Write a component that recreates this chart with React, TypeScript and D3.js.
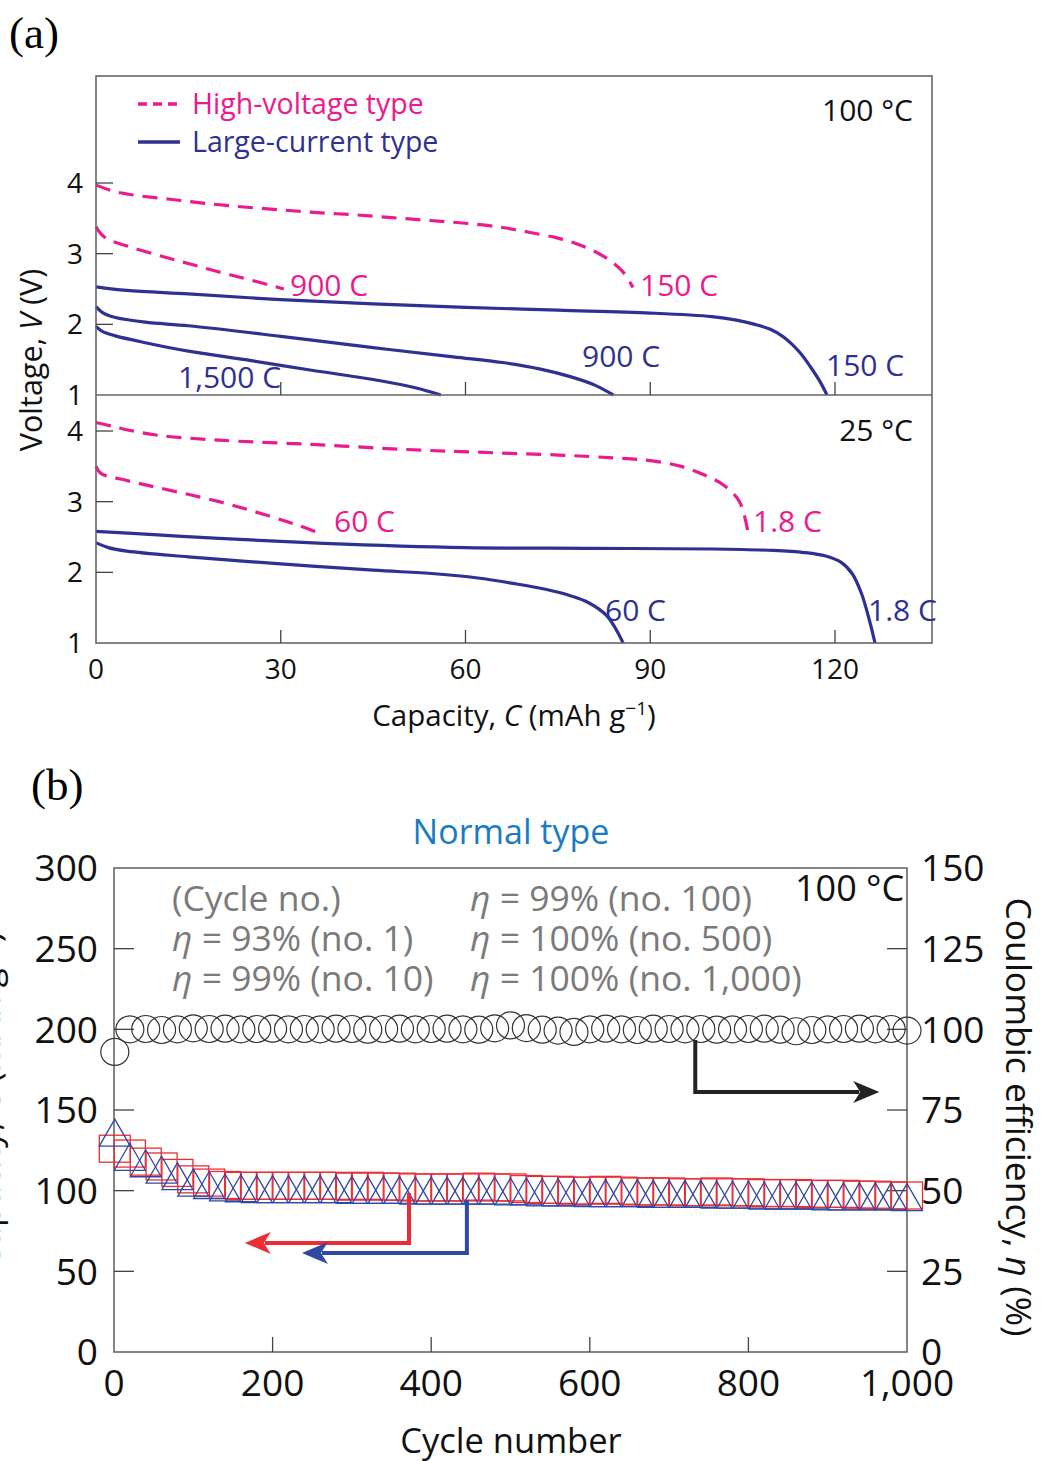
import React from "react";
import * as d3 from "d3";

// ---------- Panel (a) data: [capacity mAh/g, voltage V] ----------
const hv150_100C: [number, number][] = [[0,3.97],[3,3.88],[6,3.83],[12,3.77],[18,3.71],[24,3.66],[30,3.62],[36,3.58],[42,3.55],[48,3.51],[54,3.47],[60,3.43],[66,3.37],[70.5,3.3],[75,3.22],[78,3.14],[81,3.03],[83.5,2.9],[85.5,2.75],[87.2,2.52]];
const hv900_100C: [number, number][] = [[0,3.38],[0.8,3.28],[2,3.2],[5,3.11],[10,2.98],[15,2.86],[20,2.74],[25,2.63],[30.5,2.5]];
const lc150_100C: [number, number][] = [[0,2.53],[5,2.48],[15,2.43],[30,2.35],[45,2.29],[60,2.24],[75,2.2],[90,2.16],[100,2.11],[104,2.06],[107,2.0],[109.5,1.93],[111.5,1.83],[113,1.72],[114.5,1.58],[116,1.4],[117.5,1.2],[118.7,1.0]];
const lc900_100C: [number, number][] = [[0,2.25],[1,2.17],[3,2.1],[8,2.03],[15,1.98],[30,1.83],[45,1.67],[58,1.54],[66,1.46],[72,1.37],[77,1.26],[81,1.14],[84,1.0]];
const lc1500_100C: [number, number][] = [[0,1.97],[1,1.9],[3,1.84],[8,1.74],[15,1.62],[25,1.49],[35,1.35],[45,1.22],[52,1.1],[56,1.0]];

const hv18_25C: [number, number][] = [[0,4.12],[3,4.06],[6,4.0],[10,3.94],[20,3.87],[35,3.81],[50,3.74],[62,3.7],[75,3.66],[84,3.62],[90,3.58],[95,3.5],[99,3.37],[102,3.23],[104.5,3.0],[105.8,2.6]];
const hv60_25C: [number, number][] = [[0,3.5],[0.8,3.4],[4,3.32],[10,3.2],[20,3.0],[28,2.8],[33,2.66],[37,2.53]];
const lc18_25C: [number, number][] = [[0,2.58],[10,2.53],[20,2.48],[37,2.41],[60,2.35],[80,2.34],[100,2.33],[110,2.31],[115,2.28],[118.5,2.23],[121,2.14],[122.8,1.98],[124.3,1.7],[125.5,1.35],[126.5,1.0]];
const lc60_25C: [number, number][] = [[0,2.42],[2,2.35],[5,2.3],[15,2.22],[30,2.12],[45,2.03],[55,1.98],[62,1.92],[68,1.84],[73,1.76],[77,1.67],[80,1.57],[83,1.38],[85.6,1.0]];

const capTicks = [0, 30, 60, 90, 120];
const voltTicksTop = [1, 2, 3, 4];
const voltTicksBottom = [1, 2, 3, 4];

// ---------- Panel (b) data ----------
const cycles = [1,20,40,60,80,100,120,140,160,180,200,220,240,260,280,300,320,340,360,380,400,420,440,460,480,500,520,540,560,580,600,620,640,660,680,700,720,740,760,780,800,820,840,860,880,900,920,940,960,980,1000];
const coulombicEff = [93,100,100.1,99.8,100,100.3,100.1,100.2,100,100.1,100.2,100,100.1,100,100.2,100.1,99.9,100.1,100.2,100,100.1,100.2,100,99.9,100.3,101.2,100.4,99.9,99.6,99.2,100,100.2,100,99.8,100.2,100.1,100,100.1,99.9,100,100.1,100.2,99.9,99.4,99.8,100,100.1,100.2,100,100.1,99.6];
const capacityNormal = [126,123,118,115,111,107,105,103.5,103,103,103,103,103,103,103,102.5,103,102.5,102.5,102,102,102,102,102.5,102,102,101,100.5,100.5,100,100,100.5,100,99.5,99.5,99.5,99,99,99.5,99,99,98.5,98.5,98.5,98,98,98,97.5,97.5,97,97];
const capacityTri = [136,121,117,113,109,105,103.5,102,101.5,101,101,101,101,101,101,100.5,100.5,100.5,100.5,100,100,100,100,100,100,99.5,99.5,99,99,99,98.5,98.5,98.5,98.5,98,98,98,98,97.5,97.5,97.5,97,97,97,97,96.5,96.5,96.5,96.5,96.5,96];

const capTicksB = [0, 50, 100, 150, 200, 250, 300];
const ceTicks = [0, 25, 50, 75, 100, 125, 150];
const cycleTicks = [0, 200, 400, 600, 800, 1000];
const cycleTickLabels = ["0", "200", "400", "600", "800", "1,000"];

const PINK = "#ec1a8c";
const NAVY = "#2e3192";
const RED = "#ec2d33";
const BLUE = "#2f49a3";
const FONT = "'Open Sans', 'Noto Sans', sans-serif";

export default function App() {
  // ---- Panel (a) scales ----
  const ax0 = 96, ax1 = 932;
  const xA = d3.scaleLinear().domain([0, 120]).range([ax0, 835]);
  const yTop = d3.scaleLinear().domain([1, 4]).range([395, 183]);
  const yBot = d3.scaleLinear().domain([1, 4]).range([643, 431]);

  const curve = d3.curveCatmullRom.alpha(0.5);
  const lineTop = d3.line<[number, number]>().x(d => xA(d[0])).y(d => yTop(d[1])).curve(curve);
  const lineBot = d3.line<[number, number]>().x(d => xA(d[0])).y(d => yBot(d[1])).curve(curve);

  // ---- Panel (b) scales ----
  const bx0 = 114, bx1 = 907, by0 = 868, by1 = 1352;
  const xB = d3.scaleLinear().domain([0, 1000]).range([bx0, bx1]);
  const yCap = d3.scaleLinear().domain([0, 300]).range([by1, by0]);
  const yCE = d3.scaleLinear().domain([0, 150]).range([by1, by0]);

  const dashA = "15 9";
  const sw = 3.2;

  const mW = 31, mH = 27;

  const arrows = [
    { color: "#222", pts: [[733, 96.7, "ce"], [733, 80.6, "ce"], [965, 80.6, "ce"]] },
    { color: RED, pts: [[372, 98.6, "cap"], [372, 67.6, "cap"], [165, 67.6, "cap"]] },
    { color: BLUE, pts: [[445, 94.2, "cap"], [445, 61.4, "cap"], [237, 61.4, "cap"]] },
  ] as { color: string; pts: [number, number, string][] }[];

  return (
    <svg width={1043} height={1461} style={{ position: "absolute", left: 0, top: 0, background: "#fff" }} fontFamily={FONT}>
      <rect x={0} y={0} width={1043} height={1461} fill="#fff" />
      {/* ================= Panel (a) ================= */}
      <text x={9} y={48} fontFamily="'Liberation Serif', 'DejaVu Serif', serif" fontSize={45}>(a)</text>

      {/* curves */}
      <g fill="none" strokeLinecap="butt">
        <path d={lineTop(hv150_100C)!} stroke={PINK} strokeWidth={sw} strokeDasharray={dashA} />
        <path d={lineTop(hv900_100C)!} stroke={PINK} strokeWidth={sw} strokeDasharray={dashA} />
        <path d={lineTop(lc150_100C)!} stroke={NAVY} strokeWidth={sw} />
        <path d={lineTop(lc900_100C)!} stroke={NAVY} strokeWidth={sw} />
        <path d={lineTop(lc1500_100C)!} stroke={NAVY} strokeWidth={sw} />
        <path d={lineBot(hv18_25C)!} stroke={PINK} strokeWidth={sw} strokeDasharray={dashA} />
        <path d={lineBot(hv60_25C)!} stroke={PINK} strokeWidth={sw} strokeDasharray={dashA} />
        <path d={lineBot(lc18_25C)!} stroke={NAVY} strokeWidth={sw} />
        <path d={lineBot(lc60_25C)!} stroke={NAVY} strokeWidth={sw} />
      </g>

      {/* frame */}
      <rect x={ax0} y={76} width={ax1 - ax0} height={643 - 76} fill="none" stroke="#666" strokeWidth={1.6} />
      <line x1={ax0} x2={ax1} y1={395} y2={395} stroke="#666" strokeWidth={1.6} />

      {/* ticks */}
      <g stroke="#444" strokeWidth={1.3}>
        {voltTicksTop.filter(v => v > 1).map(v => (
          <line key={"tt" + v} x1={ax0} x2={ax0 + 17} y1={yTop(v)} y2={yTop(v)} />
        ))}
        {voltTicksBottom.filter(v => v > 1).map(v => (
          <line key={"tb" + v} x1={ax0} x2={ax0 + 17} y1={yBot(v)} y2={yBot(v)} />
        ))}
        {capTicks.filter(c => c > 0).map(c => (
          <g key={"ct" + c}>
            <line x1={xA(c)} x2={xA(c)} y1={395} y2={382} />
            <line x1={xA(c)} x2={xA(c)} y1={643} y2={630} />
          </g>
        ))}
      </g>
      <g fontSize={28} fill="#111" textAnchor="end">
        {voltTicksTop.map(v => (
          <text key={"lt" + v} x={83} y={yTop(v)} dy="0.36em">{v}</text>
        ))}
        {voltTicksBottom.filter(v => v > 1).map(v => (
          <text key={"lb" + v} x={83} y={yBot(v)} dy="0.36em">{v}</text>
        ))}
        <text x={83} y={yBot(1)} dy="0.36em">1</text>
      </g>
      <g fontSize={28} fill="#111" textAnchor="middle">
        {capTicks.map(c => (
          <text key={"xl" + c} x={xA(c)} y={679}>{c}</text>
        ))}
      </g>
      <text x={514} y={726} fontSize={29.5} textAnchor="middle" fill="#111">
        Capacity, <tspan fontStyle="italic">C</tspan> (mAh g<tspan dy={-11} fontSize={19}>−1</tspan><tspan dy={11}>)</tspan>
      </text>
      <text transform="translate(42,360) rotate(-90)" fontSize={30.5} textAnchor="middle" fill="#111">
        Voltage, <tspan fontStyle="italic">V</tspan> (V)
      </text>

      {/* legend */}
      <line x1={138} x2={180} y1={104} y2={104} stroke={PINK} strokeWidth={3.5} strokeDasharray="9 6" />
      <text x={192} y={114} fontSize={28.5} fill={PINK}>High-voltage type</text>
      <line x1={138} x2={180} y1={142} y2={142} stroke={NAVY} strokeWidth={3.5} />
      <text x={192} y={152} fontSize={28.5} fill={NAVY}>Large-current type</text>

      {/* curve labels */}
      <g fontSize={30}>
        <text x={913} y={121} textAnchor="end" fill="#111">100 °C</text>
        <text x={913} y={441} textAnchor="end" fill="#111">25 °C</text>
        <text x={290} y={296} fill={PINK}>900 C</text>
        <text x={640} y={296} fill={PINK}>150 C</text>
        <text x={582} y={367} fill={NAVY}>900 C</text>
        <text x={826} y={376} fill={NAVY}>150 C</text>
        <text x={178} y={388} fill={NAVY}>1,500 C</text>
        <text x={334} y={532} fill={PINK}>60 C</text>
        <text x={753} y={532} fill={PINK}>1.8 C</text>
        <text x={605} y={621} fill={NAVY}>60 C</text>
        <text x={868} y={621} fill={NAVY}>1.8 C</text>
      </g>

      {/* ================= Panel (b) ================= */}
      <text x={31} y={800} fontFamily="'Liberation Serif', 'DejaVu Serif', serif" fontSize={45}>(b)</text>
      <text x={511} y={844} fontSize={34} textAnchor="middle" fill="#1a7bc4">Normal type</text>

      <rect x={bx0} y={by0} width={bx1 - bx0} height={by1 - by0} fill="none" stroke="#666" strokeWidth={1.6} />

      {/* ticks */}
      <g stroke="#444" strokeWidth={1.3}>
        {capTicksB.filter(v => v > 0 && v < 300).map(v => (
          <line key={"lbt" + v} x1={bx0} x2={bx0 + 20} y1={yCap(v)} y2={yCap(v)} />
        ))}
        {ceTicks.filter(v => v > 0 && v < 150).map(v => (
          <line key={"rbt" + v} x1={bx1} x2={bx1 - 20} y1={yCE(v)} y2={yCE(v)} />
        ))}
        {cycleTicks.filter(v => v > 0 && v < 1000).map(v => (
          <line key={"cbt" + v} x1={xB(v)} x2={xB(v)} y1={by1} y2={by1 - 15} />
        ))}
      </g>

      {/* coulombic efficiency circles */}
      <g fill="none" stroke="#333" strokeWidth={1.2}>
        {cycles.map((c, i) => (
          <ellipse key={"ce" + i} cx={xB(c)} cy={yCE(coulombicEff[i])} rx={14} ry={13.5} />
        ))}
      </g>
      {/* capacity squares */}
      <g fill="none" stroke={RED} strokeWidth={1.3}>
        {cycles.map((c, i) => (
          <rect key={"sq" + i} x={xB(c) - mW / 2} y={yCap(capacityNormal[i]) - mH / 2} width={mW} height={mH} />
        ))}
      </g>
      {/* capacity triangles */}
      <g fill="none" stroke={BLUE} strokeWidth={1.3}>
        {cycles.map((c, i) => {
          const x = xB(c), y = yCap(capacityTri[i]);
          return (
            <path key={"tr" + i} d={`M${x - mW / 2},${y + mH / 2}L${x},${y - mH / 2}L${x + mW / 2},${y + mH / 2}Z`} />
          );
        })}
      </g>

      {/* arrows */}
      {arrows.map((a, i) => {
        const pts = a.pts.map(p => [xB(p[0]), p[2] === "ce" ? yCE(p[1]) : yCap(p[1])]);
        const [p0, p1, p2] = pts;
        const dir = Math.sign(p2[0] - p1[0]);
        const headLen = 26, headW = 11;
        const baseX = p2[0] - dir * headLen;
        return (
          <g key={"ar" + i}>
            <path d={`M${p0[0]},${p0[1]}L${p1[0]},${p1[1]}L${baseX + dir * 6},${p2[1]}`} fill="none" stroke={a.color} strokeWidth={4} />
            <path d={`M${p2[0]},${p2[1]}L${baseX},${p2[1] - headW}L${baseX + dir * 7},${p2[1]}L${baseX},${p2[1] + headW}Z`} fill={a.color} />
          </g>
        );
      })}

      {/* tick labels */}
      <g fontSize={37} fill="#111">
        {capTicksB.map(v => (
          <text key={"lbl" + v} x={98} y={yCap(v)} dy="0.36em" textAnchor="end">{v}</text>
        ))}
        {ceTicks.map(v => (
          <text key={"rbl" + v} x={921} y={yCE(v)} dy="0.36em">{v}</text>
        ))}
        {cycleTicks.map((v, i) => (
          <text key={"cbl" + v} x={xB(v)} y={1396} textAnchor="middle">{cycleTickLabels[i]}</text>
        ))}
      </g>
      <text x={511} y={1453} fontSize={34.5} textAnchor="middle" fill="#111">Cycle number</text>
      <text transform="translate(1006,1117) rotate(90)" fontSize={35.5} textAnchor="middle" fill="#111">
        Coulombic efficiency, <tspan fontStyle="italic">η</tspan> (%)
      </text>
      <text transform="translate(0,1100) rotate(-90)" fontSize={35} textAnchor="middle" fill="#111">
        Capacity, <tspan fontStyle="italic">C</tspan> (mAh g<tspan dy={-13} fontSize={23}>−1</tspan><tspan dy={13}>)</tspan>
      </text>

      {/* annotations */}
      <g fontSize={35.5} fill="#7a7a7a">
        <text x={172} y={911}>(Cycle no.)</text>
        <text x={172} y={951}><tspan fontStyle="italic">η</tspan> = 93% (no. 1)</text>
        <text x={172} y={991}><tspan fontStyle="italic">η</tspan> = 99% (no. 10)</text>
        <text x={470} y={911}><tspan fontStyle="italic">η</tspan> = 99% (no. 100)</text>
        <text x={470} y={951}><tspan fontStyle="italic">η</tspan> = 100% (no. 500)</text>
        <text x={470} y={991}><tspan fontStyle="italic">η</tspan> = 100% (no. 1,000)</text>
      </g>
      <text x={795} y={901} fontSize={36} fill="#111">100 °C</text>
    </svg>
  );
}
